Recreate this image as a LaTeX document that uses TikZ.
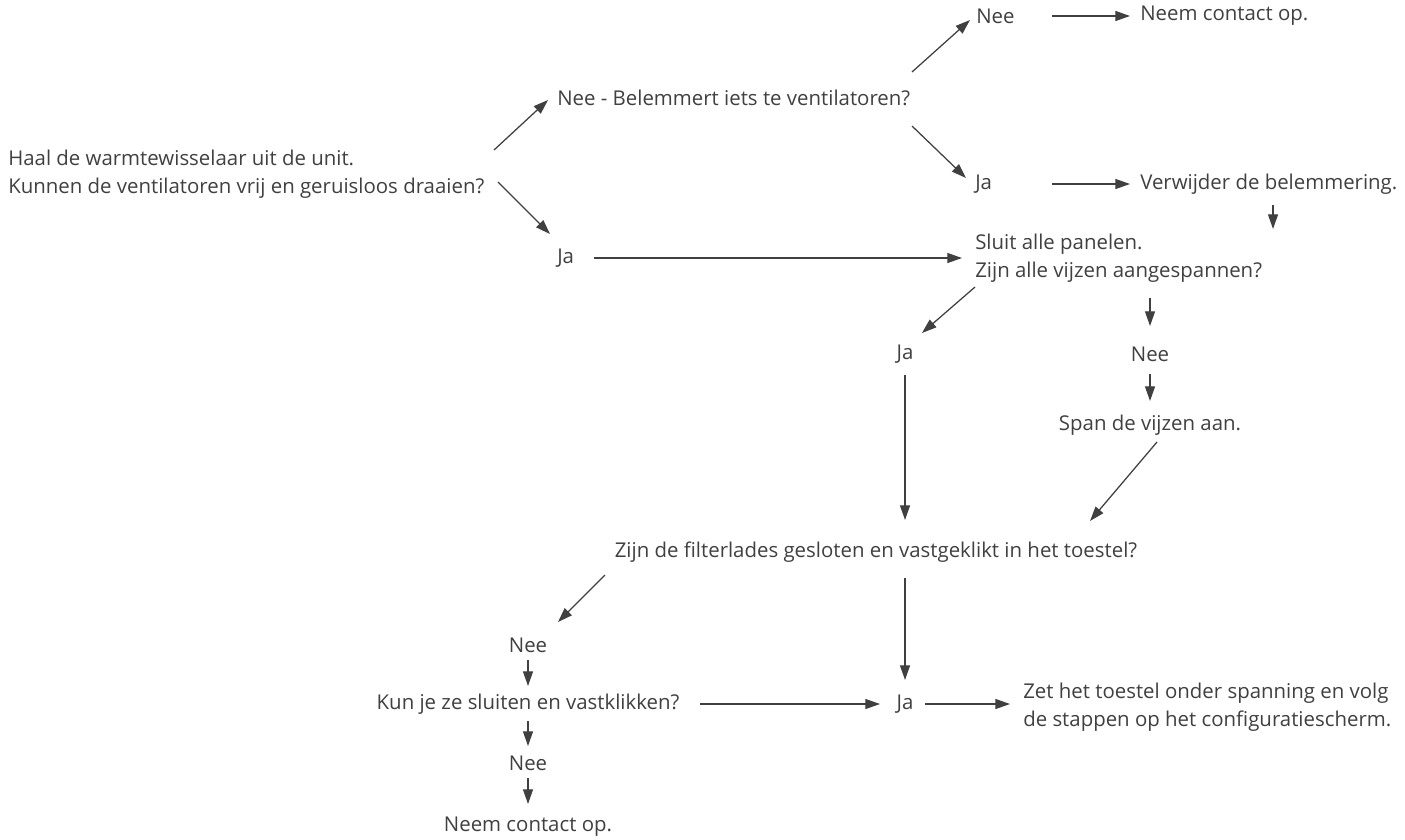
\documentclass[tikz,border=0pt]{standalone}
\usepackage{fontspec}
\setmainfont{Open Sans}
\usetikzlibrary{arrows.meta,calc}
\definecolor{ink}{HTML}{404040}
\begin{document}
\begin{tikzpicture}[x=0.75pt,y=-0.75pt,
  txt/.style={text=ink, font=\fontsize{15.3}{21}\selectfont, inner sep=0pt, align=left},
  arr/.style={draw=ink, line width=0.95pt, -{Triangle[length=11pt,width=7.5pt]}},
]
\useasboundingbox (0,0) rectangle (1405,839);

\node[txt, anchor=west] (start) at (8,174) {Haal de warmtewisselaar uit de unit.\\Kunnen de ventilatoren vrij en geruisloos draaien?};
\node[txt, anchor=west] (q2) at (557,98) {Nee - Belemmert iets te ventilatoren?};
\node[txt, anchor=west] (nee1) at (976,16) {Nee};
\node[txt, anchor=west] (contact1) at (1140,16) {Neem contact op.};
\node[txt, anchor=west] (ja1) at (975,184) {Ja};
\node[txt, anchor=west] (remove) at (1140,184) {Verwijder de belemmering.};
\node[txt, anchor=west] (ja0) at (557,258) {Ja};
\node[txt, anchor=west] (close) at (975,258) {Sluit alle panelen.\\Zijn alle vijzen aangespannen?};
\node[txt] (ja2) at (905,354) {Ja};
\node[txt] (nee2) at (1150,354) {Nee};
\node[txt] (tighten) at (1150,425) {Span de vijzen aan.};
\node[txt] (filter) at (876,552) {Zijn de filterlades gesloten en vastgeklikt in het toestel?};
\node[txt] (nee3) at (528,645) {Nee};
\node[txt] (click) at (528,704) {Kun je ze sluiten en vastklikken?};
\node[txt] (ja3) at (905,704) {Ja};
\node[txt, anchor=west] (power) at (1023,707) {Zet het toestel onder spanning en volg\\de stappen op het configuratiescherm.};
\node[txt] (nee4) at (528,763) {Nee};
\node[txt] (contact2) at (528,827) {Neem contact op.};

% top branch
\draw[arr] ($(q2.west)+(-63,52)$) -- ($(q2.west)+(-9,2)$);
\draw[arr] ($(ja0.west)+(-59,-76)$) -- ($(ja0.west)+(-7,-24)$);
\draw[arr] ($(ja0.west)+(37,0)$) -- ($(close.west)+(-13,0)$);
\draw[arr] ($(nee1.west)+(-64,56)$) -- ($(nee1.west)+(-6,4)$);
\draw[arr] ($(nee1.west)+(76,0)$) -- ($(contact1.west)+(-10,0)$);
\draw[arr] ($(ja1.west)+(-63,-58)$) -- ($(ja1.west)+(-9,-6)$);
\draw[arr] ($(ja1.west)+(77,0)$) -- ($(remove.west)+(-10,0)$);
\draw[arr] ($(remove.west)+(133,21)$) -- ($(remove.west)+(133,45)$);

% panels
\draw[arr] ($(close.west)+(0,29)$) -- ($(ja2)+(17,-21)$);
\draw[arr] ($(nee2)+(0,-56)$) -- ($(nee2)+(0,-28)$);
\draw[arr] ($(nee2)+(0,20)$) -- ($(tighten)+(0,-24)$);
\draw[arr] ($(tighten)+(7,17)$) -- ($(filter)+(214,-31)$);
\draw[arr] ($(ja2)+(0,21)$) -- ($(ja2)+(0,166)$);

% filters
\draw[arr] ($(filter)+(-271,23)$) -- ($(nee3)+(30,-23)$);
\draw[arr] ($(nee3)+(0,15)$) -- ($(click)+(0,-18)$);
\draw[arr] ($(click)+(172,0)$) -- ($(ja3)+(-25,0)$);
\draw[arr] ($(filter)+(29,26)$) -- ($(ja3)+(0,-24)$);
\draw[arr] ($(ja3)+(20,0)$) -- ($(power.west)+(-13,-3)$);
\draw[arr] ($(click)+(0,17)$) -- ($(nee4)+(0,-17)$);
\draw[arr] ($(nee4)+(0,15)$) -- ($(contact2)+(0,-23)$);
\end{tikzpicture}
\end{document}
